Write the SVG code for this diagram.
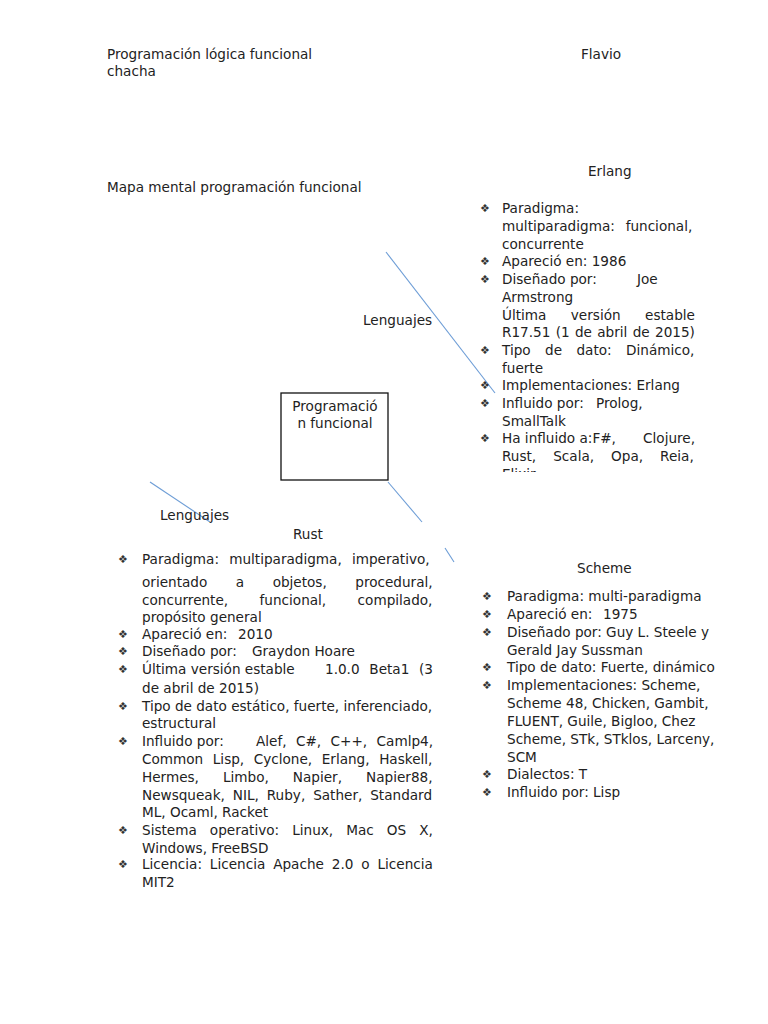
<svg xmlns="http://www.w3.org/2000/svg" width="768" height="1024" viewBox="0 0 768 1024">
<style>
text{font-family:"DejaVu Sans","Liberation Sans",sans-serif;font-size:13.6px;fill:#222}
.b{font-size:11px;fill:#333}
.c{stroke:#6d9dd6;stroke-width:1.1;fill:none}
</style>
<defs>
<clipPath id="ec"><rect x="470" y="195" width="250" height="277"/></clipPath>
</defs>
<rect width="768" height="1024" fill="#fff"/>
<g id="header">
<text x="107" y="59">Programación lógica funcional</text>
<text x="107" y="76">chacha</text>
<text x="581" y="59">Flavio</text>
<text x="107" y="192">Mapa mental programación funcional</text>
</g>
<g id="connectors">
<line class="c" x1="386" y1="252" x2="495" y2="393"/>
<line class="c" x1="388" y1="482" x2="422" y2="522"/>
<line class="c" x1="445" y1="548" x2="454" y2="562"/>
<line class="c" x1="150" y1="482" x2="210" y2="522"/>
<text x="363" y="325">Lenguajes</text>
<text x="160" y="520">Lenguajes</text>
</g>
<g id="center">
<rect x="281" y="393" width="107" height="87" fill="none" stroke="#111" stroke-width="1.3"/>
<text x="335" y="411" text-anchor="middle">Programació</text>
<text x="335" y="428" text-anchor="middle">n funcional</text>
</g>
<g id="erlang">
<text x="588" y="176">Erlang</text>
<g clip-path="url(#ec)">
<text class="b" x="480" y="212">❖</text>
<text x="502" y="213">Paradigma:</text>
<text x="502" y="231" word-spacing="6.5">multiparadigma: funcional,</text>
<text x="502" y="249">concurrente</text>
<text class="b" x="480" y="265">❖</text>
<text x="502" y="266">Apareció en: 1986</text>
<text class="b" x="480" y="283">❖</text>
<text x="502" y="284">Diseñado por:</text><text x="637" y="284">Joe</text>
<text x="502" y="302">Armstrong</text>
<text x="502" y="320" word-spacing="20.1">Última versión estable</text>
<text x="502" y="337" word-spacing="1">R17.51 (1 de abril de 2015)</text>
<text class="b" x="480" y="354">❖</text>
<text x="502" y="355" word-spacing="10.1">Tipo de dato: Dinámico,</text>
<text x="502" y="373">fuerte</text>
<text class="b" x="480" y="389">❖</text>
<text x="502" y="390">Implementaciones: Erlang</text>
<text class="b" x="480" y="407">❖</text>
<text x="502" y="408">Influido por:</text><text x="596" y="408">Prolog,</text>
<text x="502" y="426">SmallTalk</text>
<text class="b" x="480" y="442">❖</text>
<text x="502" y="443">Ha influido a:F#,</text><text x="695" y="443" text-anchor="end">Clojure,</text>
<text x="502" y="461" word-spacing="12.7">Rust, Scala, Opa, Reia,</text>
<text x="502" y="479">Elixir</text>
</g>
</g>
<g id="rust">
<text x="293" y="539">Rust</text>
<text class="b" x="118" y="563">❖</text>
<text x="142" y="564" word-spacing="5.85">Paradigma: multiparadigma, imperativo,</text>
<text x="142" y="587" word-spacing="24.2">orientado a objetos, procedural,</text>
<text x="142" y="605" word-spacing="27.1">concurrente, funcional, compilado,</text>
<text x="142" y="622">propósito general</text>
<text class="b" x="118" y="638">❖</text>
<text x="142" y="639">Apareció en:</text><text x="238" y="639">2010</text>
<text class="b" x="118" y="655">❖</text>
<text x="142" y="656">Diseñado por:</text><text x="252" y="656">Graydon Hoare</text>
<text class="b" x="118" y="673">❖</text>
<text x="142" y="674">Última versión estable</text><text x="325" y="674" word-spacing="5.4">1.0.0 Beta1 (3</text>
<text x="142" y="693">de abril de 2015)</text>
<text class="b" x="118" y="710">❖</text>
<text x="142" y="711">Tipo de dato estático, fuerte, inferenciado,</text>
<text x="142" y="728">estructural</text>
<text class="b" x="118" y="745">❖</text>
<text x="142" y="746">Influido por:</text><text x="256" y="746" word-spacing="5.1">Alef, C#, C++, Camlp4,</text>
<text x="142" y="764" word-spacing="5.25">Common Lisp, Cyclone, Erlang, Haskell,</text>
<text x="142" y="782" word-spacing="19.7">Hermes, Limbo, Napier, Napier88,</text>
<text x="142" y="800" word-spacing="3.6">Newsqueak, NIL, Ruby, Sather, Standard</text>
<text x="142" y="817">ML, Ocaml, Racket</text>
<text class="b" x="118" y="834">❖</text>
<text x="142" y="835" word-spacing="8.76">Sistema operativo: Linux, Mac OS X,</text>
<text x="142" y="853">Windows, FreeBSD</text>
<text class="b" x="118" y="868">❖</text>
<text x="142" y="869" word-spacing="3.58">Licencia: Licencia Apache 2.0 o Licencia</text>
<text x="142" y="887">MIT2</text>
</g>
<g id="scheme">
<text x="577" y="573">Scheme</text>
<text class="b" x="482" y="600">❖</text>
<text x="507" y="601">Paradigma: multi-paradigma</text>
<text class="b" x="482" y="618">❖</text>
<text x="507" y="619">Apareció en:</text><text x="603" y="619">1975</text>
<text class="b" x="482" y="636">❖</text>
<text x="507" y="637">Diseñado por: Guy L. Steele y</text>
<text x="507" y="655">Gerald Jay Sussman</text>
<text class="b" x="482" y="671">❖</text>
<text x="507" y="672">Tipo de dato: Fuerte, dinámico</text>
<text class="b" x="482" y="689">❖</text>
<text x="507" y="690">Implementaciones: Scheme,</text>
<text x="507" y="708">Scheme 48, Chicken, Gambit,</text>
<text x="507" y="726">FLUENT, Guile, Bigloo, Chez</text>
<text x="507" y="744">Scheme, STk, STklos, Larceny,</text>
<text x="507" y="762">SCM</text>
<text class="b" x="482" y="778">❖</text>
<text x="507" y="779">Dialectos: T</text>
<text class="b" x="482" y="796">❖</text>
<text x="507" y="797">Influido por: Lisp</text>
</g>
</svg>
